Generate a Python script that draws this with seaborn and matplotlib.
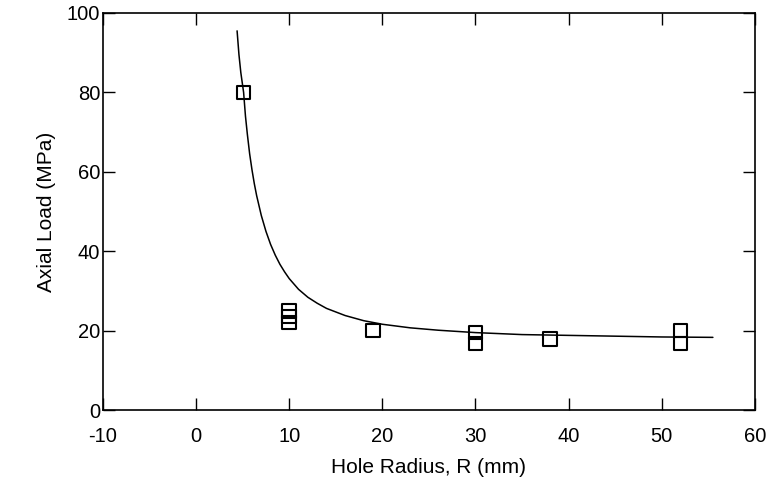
import matplotlib
matplotlib.use("Agg")
import matplotlib.pyplot as plt
import seaborn as sns

# measured points (hole radius in mm, axial load in MPa)
radius_mm = [5.1, 10, 10, 10, 19, 30, 30, 38, 52, 52]
load_mpa = [80, 25, 23.5, 22, 20, 19.5, 16.8, 17.9, 20, 16.8]

# fitted curve
curve_radius = [4.4, 4.6, 4.8, 5.1, 5.3, 5.5, 5.75, 6.0, 6.25, 6.5, 7.0,
                7.5, 8.0, 8.5, 9.0, 9.5, 10.0, 11.0, 12.0, 13.0, 14.0,
                16.0, 18.0, 20.0, 23.0, 26.0, 30.0, 35.0, 40.0, 45.0,
                50.0, 55.5]
curve_load = [95.5, 89.5, 85, 80, 74, 69.5, 64.5, 60.5, 57, 54, 49,
              45.0, 41.7, 39.0, 36.7, 34.8, 33.1, 30.4, 28.4, 26.9, 25.6,
              23.8, 22.5, 21.6, 20.7, 20.1, 19.5, 19.0, 18.8, 18.6,
              18.4, 18.3]

sns.set_style("ticks")
plt.rcParams["font.family"] = ["Liberation Sans", "DejaVu Sans"]
plt.rcParams["axes.unicode_minus"] = False
plt.rcParams["text.color"] = "black"
plt.rcParams["axes.labelcolor"] = "black"

fig = plt.figure(figsize=(7.71, 4.83), dpi=100)
ax = fig.add_axes([0.1336, 0.1511, 0.8454, 0.8220])

sns.lineplot(x=curve_radius, y=curve_load, ax=ax, color="black",
             linewidth=1.1, sort=False)
sns.scatterplot(x=radius_mm, y=load_mpa, ax=ax, marker="s", s=95,
                facecolor="none", edgecolor="black", linewidth=1.5, zorder=3)

ax.set_xlim(-10, 60)
ax.set_ylim(0, 100)
ax.set_xticks(range(-10, 61, 10))
ax.set_yticks(range(0, 101, 20))

for side in ["top", "right", "bottom", "left"]:
    ax.spines[side].set_visible(True)
    ax.spines[side].set_linewidth(1.2)
    ax.spines[side].set_color("black")

ax.tick_params(axis="both", direction="in", length=8.5, width=1.0,
               top=True, right=True, labelsize=14.5, colors="black")
ax.tick_params(axis="x", pad=12)
ax.tick_params(axis="y", pad=2)

ax.set_xlabel("Hole Radius, R (mm)", fontsize=15, labelpad=9)
ax.set_ylabel("Axial Load (MPa)", fontsize=15, labelpad=8)

fig.savefig("out.png", dpi=100, facecolor="white")
